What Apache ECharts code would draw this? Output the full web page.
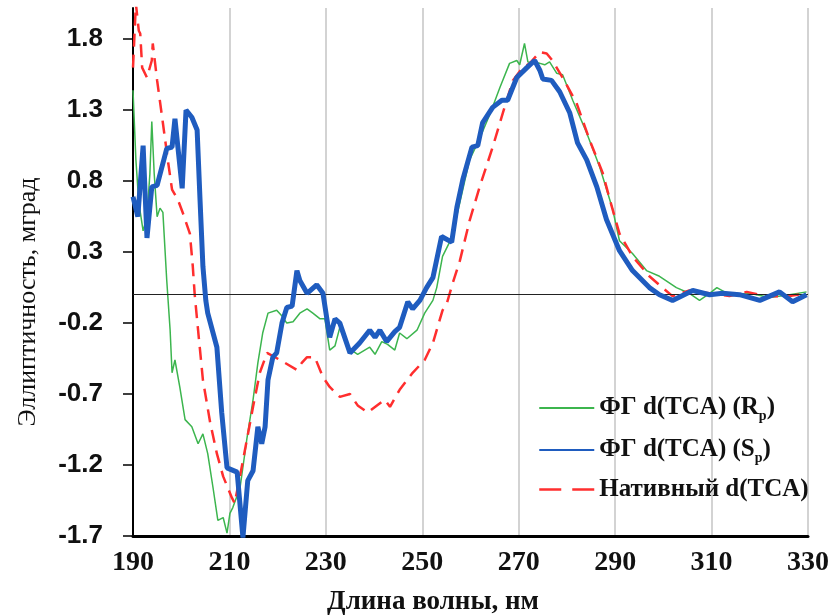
<!DOCTYPE html>
<html><head><meta charset="utf-8">
<script src="https://cdn.jsdelivr.net/npm/echarts@6/dist/echarts.min.js"></script>
<style>html,body{margin:0;padding:0;background:#fff}#c{width:830px;height:616px}</style>
</head><body><div id="c"></div>
<script>
const xTicks = [190, 210, 230, 250, 270, 290, 310, 330];
const yTicks = [-1.7, -1.2, -0.7, -0.2, 0.3, 0.8, 1.3, 1.8];
const seriesNames = ['ФГ d(TCA) (Rp)', 'ФГ d(TCA) (Sp)', 'Нативный d(TCA)'];

const wlR = [190.0,190.6,191.2,192.1,192.9,193.5,193.9,194.4,195.0,195.6,196.2,197.0,197.7,198.1,198.7,199.7,200.8,202.2,203.5,204.5,205.5,206.6,207.6,208.7,209.5,210.1,210.7,212.2,213.6,214.9,215.9,216.9,218.0,219.8,220.9,221.9,223.2,224.6,226.1,227.3,228.8,229.8,230.8,231.9,232.9,234.4,236.6,239.1,240.2,241.6,242.8,244.3,245.3,246.8,248.9,250.5,252.2,253.0,254.2,256.1,257.8,259.8,261.9,264.0,266.1,268.1,269.6,270.2,271.2,271.9,274.4,275.4,276.4,277.9,279.1,281.2,284.1,286.8,289.5,290.9,293.6,296.5,299.2,302.7,305.4,307.5,309.6,311.1,313.7,317.9,322.0,326.2,329.7];
const valR = [1.44,0.95,0.65,0.45,0.55,0.85,1.22,0.85,0.55,0.61,0.58,0.10,-0.25,-0.55,-0.46,-0.65,-0.88,-0.93,-1.05,-0.98,-1.12,-1.36,-1.59,-1.57,-1.68,-1.54,-1.50,-1.36,-1.02,-0.74,-0.48,-0.27,-0.13,-0.11,-0.15,-0.20,-0.19,-0.13,-0.10,-0.13,-0.17,-0.17,-0.39,-0.36,-0.23,-0.37,-0.42,-0.37,-0.42,-0.33,-0.35,-0.39,-0.27,-0.31,-0.25,-0.13,-0.04,0.05,0.27,0.40,0.65,0.95,1.10,1.27,1.46,1.63,1.65,1.62,1.77,1.64,1.63,1.62,1.64,1.56,1.55,1.37,1.14,0.90,0.60,0.38,0.29,0.17,0.13,0.05,0.01,-0.04,0.01,0.05,0.00,0.01,-0.02,0.00,0.02];

const wlS = [190.0,191.0,192.1,192.9,193.9,195.0,197.0,198.1,198.7,200.2,201.0,202.2,203.3,203.9,204.5,205.1,205.5,207.4,208.4,209.5,211.6,212.8,213.8,214.9,215.9,216.7,217.4,218.0,219.0,219.8,220.9,221.9,223.0,224.0,224.6,226.1,228.1,229.4,230.8,231.9,232.9,235.0,237.0,239.1,240.2,241.2,242.6,244.3,245.3,247.0,248.0,249.5,250.9,252.2,254.0,256.1,257.2,258.4,260.3,261.5,262.5,264.6,266.5,267.7,269.6,271.7,273.3,274.4,275.0,276.8,278.5,280.6,282.2,284.1,286.2,288.2,290.9,293.6,297.1,299.2,301.9,306.1,309.6,312.3,315.8,320.0,324.1,326.8,329.7];
const valS = [0.69,0.55,1.05,0.40,0.76,0.77,1.03,1.04,1.24,0.75,1.30,1.25,1.16,0.67,0.20,-0.04,-0.13,-0.37,-0.83,-1.22,-1.25,-1.71,-1.31,-1.24,-0.93,-1.05,-0.93,-0.60,-0.44,-0.41,-0.20,-0.09,-0.08,0.17,0.10,0.01,0.07,0.01,-0.30,-0.17,-0.20,-0.41,-0.34,-0.25,-0.30,-0.25,-0.33,-0.26,-0.23,-0.05,-0.10,-0.04,0.05,0.12,0.41,0.37,0.62,0.81,1.04,1.05,1.21,1.32,1.37,1.37,1.53,1.60,1.65,1.58,1.52,1.51,1.43,1.28,1.07,0.95,0.76,0.53,0.31,0.17,0.05,0.00,-0.04,0.03,0.00,0.01,0.00,-0.04,0.02,-0.05,0.00];

const wlN = [190.0,190.6,191.2,191.5,191.9,192.9,193.9,194.1,195.0,196.2,197.3,198.1,199.3,200.4,201.8,202.4,202.8,203.5,204.5,206.0,207.4,208.7,210.5,211.1,212.8,214.9,216.3,217.8,220.5,224.0,225.0,226.1,227.7,229.4,230.8,232.9,235.0,236.6,238.7,240.6,242.2,243.3,245.3,248.0,250.5,252.2,254.2,255.1,256.3,257.8,259.8,261.9,264.6,266.7,268.8,270.8,272.3,274.4,275.8,277.0,279.1,282.0,284.7,287.4,288.9,290.9,293.6,297.1,299.8,301.9,305.4,309.6,313.7,317.3,320.0,322.6,326.2,329.7];
const valN = [1.60,2.05,1.86,1.84,1.60,1.53,1.65,1.77,1.51,1.21,0.93,0.74,0.67,0.57,0.43,0.20,0.00,-0.25,-0.60,-0.90,-1.12,-1.28,-1.43,-1.47,-1.17,-0.79,-0.55,-0.41,-0.46,-0.53,-0.48,-0.44,-0.44,-0.58,-0.65,-0.72,-0.70,-0.78,-0.83,-0.78,-0.74,-0.79,-0.67,-0.55,-0.46,-0.34,-0.11,-0.06,0.08,0.24,0.52,0.76,1.04,1.28,1.51,1.60,1.63,1.71,1.70,1.65,1.53,1.35,1.09,0.86,0.67,0.43,0.27,0.13,0.05,-0.01,0.03,0.01,-0.01,0.02,0.00,-0.01,-0.01,0.01];

const zip = (a, b) => a.map((x, i) => [x, b[i]]);
const chart = echarts.init(document.getElementById('c'), null, {renderer: 'canvas'});
const serif = 'Liberation Serif, Times New Roman, serif';
const sans = 'Liberation Sans, Arial, sans-serif';
const richLegend = {
  n: {fontFamily: serif, fontWeight: 'bold', fontSize: 25, color: '#111', lineHeight: 28},
  s: {fontFamily: serif, fontWeight: 'bold', fontSize: 14, color: '#111', lineHeight: 14, padding: [16, 0, 0, 0]}
};
const cR = '#3cb54e', cS = '#1f5cbf', cN = '#ff2e2e';
chart.setOption({
  animation: false,
  backgroundColor: '#fff',
  grid: {left: 133, right: 22, top: 8, bottom: 80, containLabel: false, outerBoundsMode: 'none'},
  legend: {
    data: [
      {name: seriesNames[0]},
      {name: seriesNames[1]},
      {name: seriesNames[2], lineStyle: {type: [22, 11], width: 2.5}}
    ],
    orient: 'vertical', left: 533, top: 388,
    itemWidth: 55, itemHeight: 14, itemGap: 12,
    itemStyle: {opacity: 0},
    formatter: function (name) {
      const m = name.match(/^(.*\()([RS])p\)$/);
      if (m) return '{n|' + m[1] + m[2] + '}{s|p}{n|)}';
      return '{n|' + name + '}';
    },
    textStyle: {rich: richLegend, fontFamily: serif, fontWeight: 'bold', fontSize: 25}
  },
  xAxis: {
    type: 'value', min: 190, max: 330, interval: 20,
    name: 'Длина волны, нм', nameLocation: 'middle', nameGap: 53,
    nameTextStyle: {fontFamily: serif, fontWeight: 'bold', fontSize: 27, color: '#111', padding: [0, 75, 0, 0]},
    axisLine: {onZero: false, lineStyle: {color: '#000', width: 3}},
    axisTick: {show: false},
    axisLabel: {fontFamily: serif, fontWeight: 'bold', fontSize: 28, color: '#111', margin: 13,
      formatter: v => String(v)},
    splitLine: {show: true, lineStyle: {color: '#c4c4c4', width: 1.5}}
  },
  yAxis: {
    type: 'value', min: -1.7, max: 2.02,
    name: 'Эллиптичность, мград', nameLocation: 'middle', nameGap: 92,
    nameTextStyle: {fontFamily: serif, fontSize: 26, color: '#111', padding: [0, 60, 0, 0]},
    axisLine: {show: true, lineStyle: {color: '#000', width: 2}},
    axisTick: {show: true, inside: false, length: 10, customValues: yTicks, lineStyle: {color: '#000', width: 1.5}},
    axisLabel: {customValues: yTicks, fontFamily: sans, fontWeight: 'bold', fontSize: 26, color: '#111', margin: 30,
      formatter: v => v.toFixed(1)},
    splitLine: {show: false}
  },
  series: [
    {
      name: 'zero', type: 'line', data: [], z: 1, silent: true,
      markLine: {silent: true, symbol: 'none', label: {show: false},
        lineStyle: {color: '#222', width: 1.2, type: 'solid'}, data: [{yAxis: 0}]}
    },
    {name: seriesNames[0], type: 'line', data: zip(wlR, valR), showSymbol: false, symbol: 'none', z: 3,
      lineStyle: {color: cR, width: 1.5}, itemStyle: {color: cR}},
    {name: seriesNames[2], type: 'line', data: zip(wlN, valN), showSymbol: false, symbol: 'none', z: 4,
      lineStyle: {color: cN, width: 2.5, type: [13, 8]}, itemStyle: {color: cN}},
    {name: seriesNames[1], type: 'line', data: zip(wlS, valS), showSymbol: false, symbol: 'none', z: 5,
      lineStyle: {color: cS, width: 5}, itemStyle: {color: cS}}
  ]
});
</script></body></html>
